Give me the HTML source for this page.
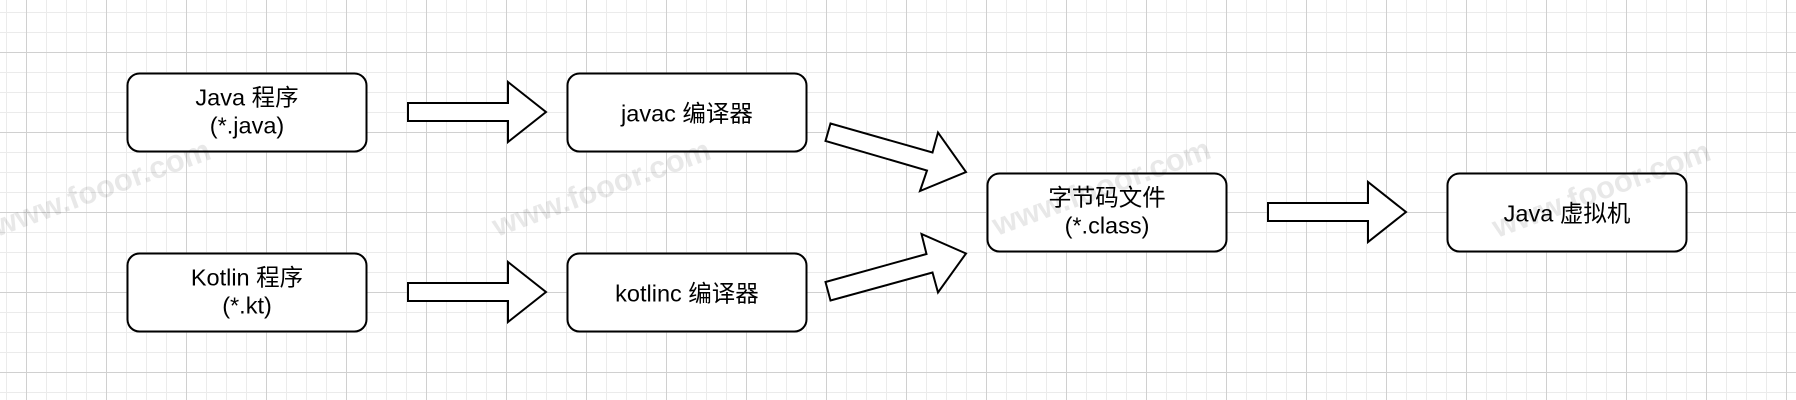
<!DOCTYPE html>
<html>
<head>
<meta charset="utf-8">
<style>
  html, body { margin: 0; padding: 0; }
  body {
    width: 1796px; height: 400px; overflow: hidden;
    background-color: #ffffff;
    background-image:
      linear-gradient(to right, #d0d0d0 1px, transparent 1px),
      linear-gradient(to bottom, #d0d0d0 1px, transparent 1px),
      linear-gradient(to right, #ebebeb 1px, transparent 1px),
      linear-gradient(to bottom, #ebebeb 1px, transparent 1px);
    background-size: 80px 80px, 80px 80px, 20px 20px, 20px 20px;
    background-position: 26px 0, 0 52px, 6px 0, 0 12px;
  }
  svg { position: absolute; left: 0; top: 0; }
  .lbl { font-family: "Liberation Sans", "Noto Sans CJK SC", sans-serif; font-size: 23.5px; fill: #000; text-anchor: middle; }
  .wm { font-family: "Liberation Sans", sans-serif; font-size: 31px; font-weight: bold; fill: #000; fill-opacity: 0.09; }
</style>
</head>
<body>
<svg width="1796" height="400" viewBox="0 0 1796 400" xmlns="http://www.w3.org/2000/svg">
  <g fill="#ffffff" stroke="#000000" stroke-width="2">
    <!-- boxes -->
    <rect x="127.5" y="73.5" width="239" height="78" rx="12" ry="12"/>
    <rect x="567.5" y="73.5" width="239" height="78" rx="12" ry="12"/>
    <rect x="127.5" y="253.5" width="239" height="78" rx="12" ry="12"/>
    <rect x="567.5" y="253.5" width="239" height="78" rx="12" ry="12"/>
    <rect x="987.5" y="173.5" width="239" height="78" rx="12" ry="12"/>
    <rect x="1447.5" y="173.5" width="239" height="78" rx="12" ry="12"/>

    <!-- horizontal arrows -->
    <polygon points="408,103 508,103 508,82 546,112 508,142 508,121 408,121"/>
    <polygon points="408,283 508,283 508,262 546,292 508,322 508,301 408,301"/>
    <polygon points="1268,203 1368,203 1368,182 1406,212 1368,242 1368,221 1268,221"/>

    <!-- diagonal arrows -->
    <polygon points="830.5,123.5 932.5,152.5 938,132.5 966,172 920,191 927,170.5 825.5,141"/>
    <polygon points="825.5,282 926.5,254 921.5,234 966,253.5 938,292.5 932.5,272.5 830.5,300.5"/>
  </g>

  <!-- labels -->
  <text class="lbl" x="247" y="105.5">Java 程序</text>
  <text class="lbl" x="247" y="133.5">(*.java)</text>

  <text class="lbl" x="687" y="121.5">javac 编译器</text>

  <text class="lbl" x="247" y="285.5">Kotlin 程序</text>
  <text class="lbl" x="247" y="313.5">(*.kt)</text>

  <text class="lbl" x="687" y="301.5">kotlinc 编译器</text>

  <text class="lbl" x="1107" y="205.5">字节码文件</text>
  <text class="lbl" x="1107" y="233.5">(*.class)</text>

  <text class="lbl" x="1567" y="221.5">Java 虚拟机</text>

  <!-- watermarks -->
  <text class="wm" x="-3" y="237" transform="rotate(-20 -3 237)">www.fooor.com</text>
  <text class="wm" x="497" y="237" transform="rotate(-20 497 237)">www.fooor.com</text>
  <text class="wm" x="997" y="236" transform="rotate(-20 997 236)">www.fooor.com</text>
  <text class="wm" x="1497" y="238" transform="rotate(-20 1497 238)">www.fooor.com</text>
</svg>
</body>
</html>
